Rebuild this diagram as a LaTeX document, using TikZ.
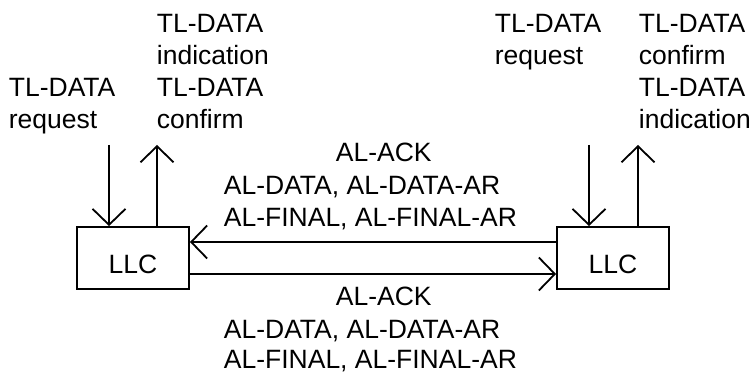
\documentclass[tikz,border=0pt]{standalone}
\usepackage{fontspec}
\setmainfont{Liberation Sans}
\usetikzlibrary{arrows.meta}
\begin{document}
\begin{tikzpicture}[x=1pt,y=-1pt, line width=1.8pt,
  arr/.style={-{Straight Barb[length=16pt,width=33pt]}},
  lbl/.style={anchor=base west, inner sep=0pt, font=\fontsize{26.5}{32}\selectfont},
  llcbox/.style={draw, minimum width=112pt, minimum height=62pt, inner sep=0pt,
    text height=31pt, text depth=0pt, font=\fontsize{26.5}{32}\selectfont}]
\useasboundingbox[fill=white] (0,0) rectangle (753,374);

% boxes
\node[llcbox] (lbox) at (133,258) {LLC};
\node[llcbox] (rbox) at (613,258) {LLC};

% vertical connectors
\coordinate (ld) at (109,145);
\coordinate (lu) at (157,145);
\coordinate (rd) at (589,145);
\coordinate (ru) at (638,145);
\draw[arr] (ld) -- (ld |- lbox.north);
\draw[arr] (lu |- lbox.north) -- (lu);
\draw[arr] (rd) -- (rd |- rbox.north);
\draw[arr] (ru |- rbox.north) -- (ru);

% horizontal connectors
\draw[arr] ([yshift=16pt]rbox.west) -- ([yshift=16pt]lbox.east);
\draw[arr] ([yshift=-16pt]lbox.east) -- ([yshift=-16pt]rbox.west);

% left labels
\node[lbl] (t1) at (8,97) {TL-DATA};
\node[lbl] (t2) at (8,129) {request};
\node[lbl] (t3) at (156,33) {TL-DATA};
\node[lbl] (t4) at (156,65) {indication};
\node[lbl] (t5) at (156,97) {TL-DATA};
\node[lbl] (t6) at (156,129) {confirm};

% right labels
\node[lbl] (t7) at (494,33) {TL-DATA};
\node[lbl] (t8) at (494,65) {request};
\node[lbl] (t9) at (638,33) {TL-DATA};
\node[lbl] (t10) at (638,65) {confirm};
\node[lbl] (t11) at (638,97) {TL-DATA};
\node[lbl] (t12) at (638,129) {indication};

% middle labels
\node[lbl] (m1) at (335,162) {AL-ACK};
\node[lbl] (m2) at (223,195) {AL-DATA, AL-DATA-AR};
\node[lbl] (m3) at (223,227) {AL-FINAL, AL-FINAL-AR};
\node[lbl] (m4) at (335,306) {AL-ACK};
\node[lbl] (m5) at (223,338) {AL-DATA, AL-DATA-AR};
\node[lbl] (m6) at (223,368) {AL-FINAL, AL-FINAL-AR};
\end{tikzpicture}
\end{document}
